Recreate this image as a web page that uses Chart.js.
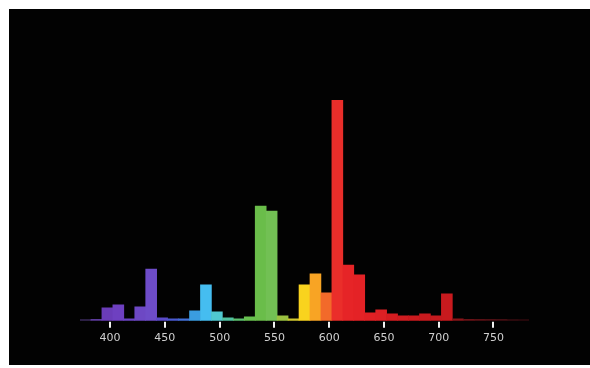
<!DOCTYPE html>
<html lang="en">
<head>
  <meta charset="UTF-8">
  <title>Lamp Spectrum</title>
  <style>
    * {
      box-sizing: border-box;
      margin: 0;
      padding: 0;
    }
    body {
      background: #fff;
      width: 590px;
      height: 368px;
      overflow: hidden;
      position: relative;
    }
    .frame {
      position: absolute;
      left: 9px;
      top: 9px;
      width: 581px;
      height: 356px;
      background: #020202;
    }
  </style>
</head>
<body>
  <div class="frame">
    <canvas id="chart" width="581" height="356"></canvas>
  </div>

  <script src="https://cdn.jsdelivr.net/npm/chart.js"></script>
  <script>
    // wavelength bins (nm, centre of each 10 nm bin)
    const wavelengths = [
      377.5, 387.5, 397.5, 407.5, 417.5, 427.5, 437.5, 447.5, 457.5, 467.5,
      477.5, 487.5, 497.5, 507.5, 517.5, 527.5, 537.5, 547.5, 557.5, 567.5,
      577.5, 587.5, 597.5, 607.5, 617.5, 627.5, 637.5, 647.5, 657.5, 667.5,
      677.5, 687.5, 697.5, 707.5, 717.5, 727.5, 737.5, 747.5, 757.5, 767.5,
      777.5
    ];
    // relative intensity (%)
    const intensity = [
      0.5, 0.7, 5.9, 7.2, 0.9, 6.3, 23.5, 1.4, 0.9, 0.9,
      4.5, 16.3, 4.1, 1.4, 0.9, 1.8, 52.0, 49.8, 2.3, 0.9,
      16.3, 21.3, 12.7, 100, 25.3, 20.8, 3.6, 5.0, 3.2, 2.3,
      2.3, 3.2, 2.3, 12.2, 0.9, 0.7, 0.7, 0.7, 0.7, 0.5,
      0.5
    ];
    const barColors = [
      '#3a2a5a', '#5b3a9a', '#6a3cb8', '#6e40c0', '#6a44c2', '#6d48c4', '#6e4cc8', '#5a4ac8', '#4a5ad0', '#4270d8',
      '#3a9ce0', '#45bdf0', '#50c8d0', '#50c0a0', '#5cc070', '#68c050', '#6abd4a', '#72c054', '#9ac040', '#d0c830',
      '#f9d31e', '#f8a424', '#f26a2a', '#ea2e2a', '#e62427', '#e42226', '#e02024', '#dc2024', '#d41c20', '#d01c20',
      '#cc1a1e', '#c81a1e', '#c41a1e', '#c81a1e', '#8a1418', '#6a1216', '#5a1014', '#4e0f13', '#440e12', '#3a0c10',
      '#300a0e'
    ];
    const tickValues = [400, 450, 500, 550, 600, 650, 700, 750];

    // small white tick marks under the baseline
    const tickMarks = {
      id: 'tickMarks',
      afterDraw(chart) {
        const { ctx, chartArea, scales } = chart;
        ctx.save();
        ctx.strokeStyle = '#f0f0f0';
        ctx.lineWidth = 2;
        tickValues.forEach(v => {
          const px = Math.round(scales.x.getPixelForValue(v));
          ctx.beginPath();
          ctx.moveTo(px, chartArea.bottom + 1);
          ctx.lineTo(px, chartArea.bottom + 7);
          ctx.stroke();
        });
        ctx.restore();
      }
    };

    const chart = new Chart(document.getElementById('chart'), {
      type: 'bar',
      data: {
        datasets: [{
          data: wavelengths.map((w, i) => ({ x: w, y: intensity[i] })),
          backgroundColor: barColors,
          borderWidth: 0,
          barPercentage: 1,
          categoryPercentage: 1
        }]
      },
      options: {
        responsive: false,
        animation: false,
        layout: {
          padding: { left: 71, right: 61, top: 0, bottom: 17 }
        },
        plugins: {
          legend: { display: false },
          tooltip: { enabled: false }
        },
        scales: {
          x: {
            type: 'linear',
            min: 372.5,
            max: 782.5,
            offset: false,
            afterBuildTicks: s => { s.ticks = tickValues.map(v => ({ value: v })); },
            grid: { display: false },
            border: { display: false },
            ticks: {
              color: '#cfcfcf',
              padding: 3,
              maxRotation: 0,
              autoSkip: false,
              font: { family: 'DejaVu Sans', size: 11 }
            }
          },
          y: {
            display: false,
            min: 0,
            max: 141.4
          }
        }
      },
      plugins: [tickMarks]
    });
  </script>
</body>
</html>
